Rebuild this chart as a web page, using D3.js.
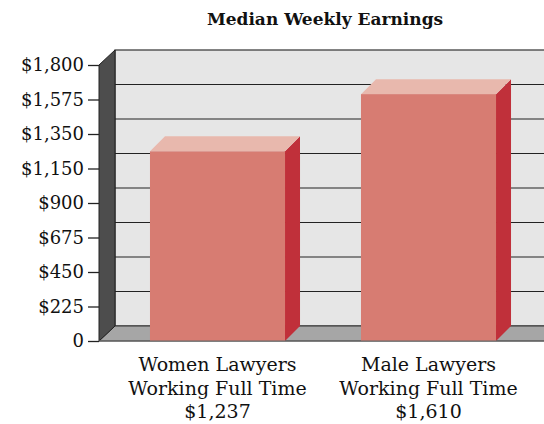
<!DOCTYPE html>
<html>
<head>
<meta charset="utf-8">
<script src="https://cdn.jsdelivr.net/npm/d3@7"></script>
<style>
  body { margin: 0; background: #fff; }
  text { font-family: "DejaVu Serif", serif; fill: #111; }
</style>
</head>
<body>
<div id="chart"></div>
<script>
var categories = ["Women Lawyers|Working Full Time", "Male Lawyers|Working Full Time"];
var earnings = [1237, 1610];
var valueLabels = ["$1,237", "$1,610"];
var tickValues = [0, 225, 450, 675, 900, 1125, 1350, 1575, 1800];
var tickLabels = ["0", "$225", "$450", "$675", "$900", "$1,150", "$1,350", "$1,575", "$1,800"];

var w = 544, h = 424;
var mLeft = 99, mRight = 560, mTop = 65, mBottom = 341;
var depth = 15, dxDepth = 16;

var svg = d3.select("#chart").append("svg")
    .attr("width", w).attr("height", h);

var y = d3.scaleLinear().domain([0, 1800]).range([mBottom, mTop]);
var x = d3.scaleBand().domain(categories).range([112, 534])
    .paddingInner(0.36).paddingOuter(0.18);

// title
svg.append("text").attr("x", 325).attr("y", 25)
    .attr("text-anchor", "middle")
    .style("font-weight", "bold").style("font-size", "17px")
    .text("Median Weekly Earnings");

// back wall
svg.append("rect")
    .attr("x", mLeft + dxDepth).attr("y", mTop - depth)
    .attr("width", mRight - mLeft).attr("height", mBottom - mTop)
    .attr("fill", "#e6e6e6").attr("stroke", "#333").attr("stroke-width", 1.2);

// grid lines on back wall
svg.append("g").selectAll("line").data(tickValues.slice(1, -1)).join("line")
    .attr("x1", mLeft + dxDepth).attr("x2", mRight)
    .attr("y1", d => y(d) - depth).attr("y2", d => y(d) - depth)
    .attr("stroke", "#222").attr("stroke-width", 1.2);

// floor
svg.append("path")
    .attr("d", d3.line()([[mLeft, mBottom], [mLeft + dxDepth, mBottom - depth], [mRight, mBottom - depth], [mRight, mBottom]]) + "Z")
    .attr("fill", "#a6a6a6").attr("stroke", "#333").attr("stroke-width", 1);

// left wall
svg.append("path")
    .attr("d", d3.line()([[mLeft, mTop], [mLeft + dxDepth, mTop - depth], [mLeft + dxDepth, mBottom - depth], [mLeft, mBottom]]) + "Z")
    .attr("fill", "#4d4d4d").attr("stroke", "#222").attr("stroke-width", 1);

// bars
var bars = svg.append("g").selectAll("g").data(earnings).join("g");

bars.append("path") // side
    .attr("d", (d, i) => {
        var x1 = x(categories[i]) + x.bandwidth();
        return d3.line()([[x1, y(d)], [x1 + depth, y(d) - depth], [x1 + depth, mBottom - depth], [x1, mBottom]]) + "Z";
    })
    .attr("fill", "#c0303a");

bars.append("path") // top
    .attr("d", (d, i) => {
        var x0 = x(categories[i]), x1 = x0 + x.bandwidth();
        return d3.line()([[x0, y(d)], [x0 + depth, y(d) - depth], [x1 + depth, y(d) - depth], [x1, y(d)]]) + "Z";
    })
    .attr("fill", "#e8b8ad");

bars.append("rect") // front
    .attr("x", (d, i) => x(categories[i]))
    .attr("y", d => y(d))
    .attr("width", x.bandwidth())
    .attr("height", d => mBottom - y(d))
    .attr("fill", "#d77c72");

// y axis
var yAxis = d3.axisLeft(y).tickValues(tickValues)
    .tickFormat((d, i) => tickLabels[i]).tickSize(11).tickPadding(4);
var ya = svg.append("g").attr("transform", "translate(" + mLeft + ",0)").call(yAxis);
ya.select(".domain").remove();
ya.selectAll(".tick line").attr("stroke", "#222").attr("stroke-width", 1.3);
ya.selectAll(".tick text").style("font-size", "18px")
    .style("font-family", "'DejaVu Serif', serif").attr("fill", "#111");

// front floor line
svg.append("line").attr("x1", mLeft).attr("x2", mRight)
    .attr("y1", mBottom).attr("y2", mBottom)
    .attr("stroke", "#666").attr("stroke-width", 1);

// category labels
var labels = svg.append("g").selectAll("text").data(categories).join("text")
    .attr("text-anchor", "middle")
    .style("font-size", "19px")
    .attr("transform", d => "translate(" + (x(d) + x.bandwidth() / 2) + ",371)");

labels.each(function (d, i) {
    var lines = d.split("|").concat([valueLabels[i]]);
    d3.select(this).selectAll("tspan").data(lines).join("tspan")
        .attr("x", 0).attr("dy", (t, j) => j === 0 ? 0 : 23.5)
        .text(t => t);
});
</script>
</body>
</html>
